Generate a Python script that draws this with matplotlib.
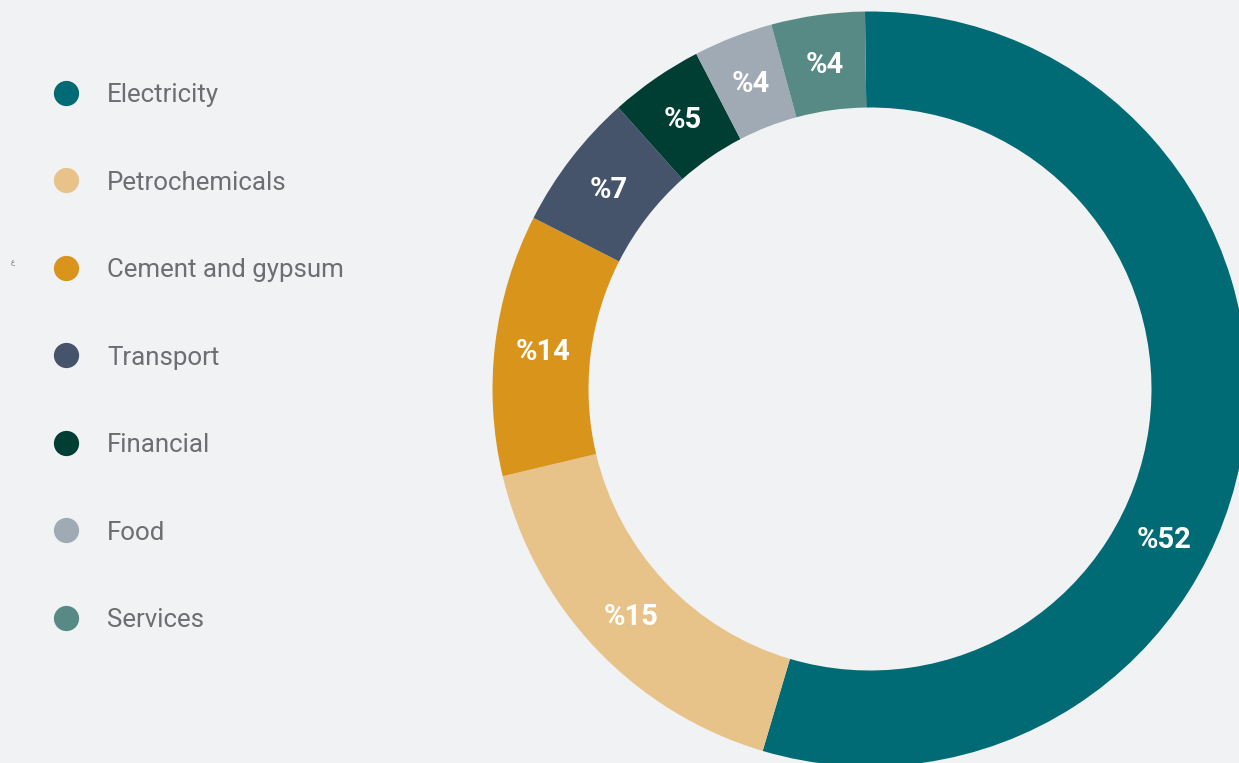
import numpy as np
import matplotlib.pyplot as plt

# sectors, clockwise from the top of the ring
sectors = ["Electricity", "Petrochemicals", "Cement and gypsum", "Transport",
           "Financial", "Food", "Services"]
# arc sizes as drawn in the picture (share of the circle, %)
arc_shares = [54.8, 16.7, 11.2, 5.9, 4.0, 3.4, 4.0]
# printed labels
pct_labels = ["%52", "%15", "%14", "%7", "%5", "%4", "%4"]

colors = ["#006B74", "#E8C389", "#D9941B", "#46546B", "#003D33", "#A0AAB4", "#578A84"]
bg = "#F1F2F4"
text_gray = "#6D6E71"

W, H = 1239, 763
fig = plt.figure(figsize=(W / 100, H / 100), dpi=100, facecolor=bg)
ax = fig.add_axes([0, 0, 1, 1])
ax.set_facecolor(bg)

# donut (pixel coordinates, y up)
cx, cy = 870, H - 389
r_out, ring = 377.5, 96
wedges, _ = ax.pie(arc_shares, colors=colors, startangle=90.76, counterclock=False,
                   radius=r_out, center=(cx, cy),
                   wedgeprops=dict(width=ring, linewidth=0))

# labels on the ring middle; the big one sits lower than its midpoint
shift = {0: -19}
r_lab = r_out - ring / 2
for i, (w, lab) in enumerate(zip(wedges, pct_labels)):
    ang = np.deg2rad((w.theta1 + w.theta2) / 2 + shift.get(i, 0))
    ax.text(cx + r_lab * np.cos(ang), cy + r_lab * np.sin(ang) - 2, lab,
            ha="center", va="center", color="white", fontsize=21,
            fontweight="bold", family="Roboto")

# legend
y0, step = H - 92.7, 87.5
for i, (name, c) in enumerate(zip(sectors, colors)):
    y = y0 - i * step
    ax.scatter([66], [y], s=330, color=c, linewidths=0, zorder=3)
    ax.text(107, y - 9.5, name, ha="left", va="baseline", color=text_gray,
            fontsize=18.6, family="Roboto")

ax.text(13, H - 263, "ع", ha="center", va="center", color=text_gray,
        fontsize=5, family="DejaVu Sans")

ax.set_xlim(0, W)
ax.set_ylim(0, H)
ax.set_aspect("equal")
ax.axis("off")

fig.savefig("out.png", dpi=100, facecolor=bg)
